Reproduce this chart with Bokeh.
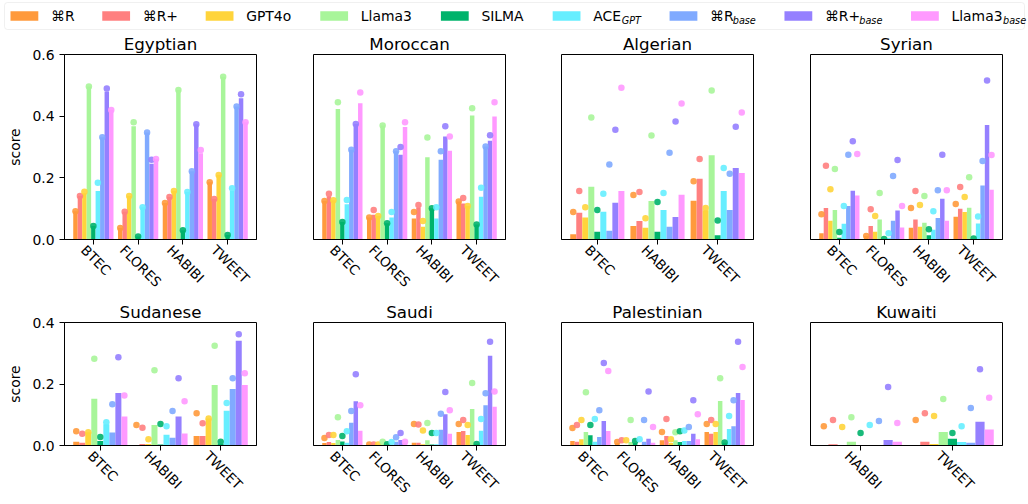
import math
from bokeh.plotting import figure
from bokeh.models import (Range1d, FixedTicker, ColumnDataSource,
                          BoxAnnotation, CustomJSTickFormatter, NumeralTickFormatter)
from bokeh.layouts import column, row
from bokeh.embed import file_html
from bokeh.resources import INLINE
from bokeh.core.properties import value

FONT = "DejaVu Sans"

# ---------------- data ----------------
model_names = ["⌘R", "⌘R+", "GPT4o", "Llama3", "SILMA", "ACE", "⌘R", "⌘R+", "Llama3"]
model_subscripts = ["", "", "", "", "", "GPT", "base", "base", "base"]
model_colors = ["#FF9A3C", "#FF8080", "#FFD43B", "#A8F59A", "#00B36B",
                "#66EEFF", "#80AAFF", "#9580FF", "#FF99FF"]

egyptian_cats = ["BTEC", "FLORES", "HABIBI", "TWEET"]
egyptian_bars = [[0.092, 0.141, 0.150, 0.496, 0.044, 0.157, 0.332, 0.480, 0.420],
                 [0.037, 0.090, 0.141, 0.367, 0.010, 0.105, 0.347, 0.246, 0.261],
                 [0.118, 0.138, 0.157, 0.485, 0.030, 0.154, 0.221, 0.374, 0.280],
                 [0.186, 0.131, 0.209, 0.528, 0.015, 0.157, 0.431, 0.458, 0.380]]
egyptian_dots = [[0.092, 0.141, 0.155, 0.496, 0.044, 0.184, 0.332, 0.490, 0.420],
                 [0.037, 0.090, 0.141, 0.380, 0.010, 0.105, 0.347, 0.259, 0.261],
                 [0.118, 0.138, 0.157, 0.485, 0.030, 0.154, 0.221, 0.374, 0.290],
                 [0.186, 0.131, 0.209, 0.528, 0.015, 0.166, 0.431, 0.471, 0.380]]

moroccan_cats = ["BTEC", "FLORES", "HABIBI", "TWEET"]
moroccan_bars = [[0.125, 0.140, 0.127, 0.423, 0.057, 0.114, 0.291, 0.375, 0.442],
                 [0.071, 0.080, 0.076, 0.370, 0.053, 0.071, 0.286, 0.275, 0.365],
                 [0.068, 0.103, 0.041, 0.267, 0.101, 0.068, 0.259, 0.334, 0.288],
                 [0.123, 0.117, 0.109, 0.402, 0.049, 0.139, 0.302, 0.320, 0.399]]
moroccan_dots = [[0.125, 0.148, 0.127, 0.445, 0.057, 0.128, 0.291, 0.375, 0.477],
                 [0.071, 0.096, 0.076, 0.370, 0.053, 0.089, 0.286, 0.300, 0.380],
                 [0.089, 0.112, 0.060, 0.331, 0.101, 0.105, 0.286, 0.367, 0.334],
                 [0.123, 0.135, 0.109, 0.426, 0.049, 0.168, 0.302, 0.338, 0.445]]

algerian_cats = ["BTEC", "HABIBI", "TWEET"]
algerian_bars = [[0.017, 0.087, 0.071, 0.171, 0.025, 0.090, 0.028, 0.119, 0.157],
                 [0.044, 0.060, 0.038, 0.125, 0.025, 0.096, 0.041, 0.073, 0.145],
                 [0.126, 0.197, 0.095, 0.273, 0.014, 0.157, 0.096, 0.232, 0.216]]
algerian_dots = [[0.089, 0.157, 0.105, 0.396, 0.096, 0.148, 0.243, 0.356, 0.492],
                 [0.144, 0.154, 0.069, 0.337, 0.122, 0.151, 0.281, 0.383, 0.441],
                 [0.189, 0.261, 0.102, 0.483, 0.062, 0.232, 0.213, 0.366, 0.412]]

syrian_cats = ["BTEC", "FLORES", "HABIBI", "TWEET"]
syrian_bars = [[0.020, 0.102, 0.061, 0.096, 0.006, 0.051, 0.109, 0.158, 0.143],
               [0.011, 0.044, 0.025, 0.065, 0.002, 0.006, 0.061, 0.094, 0.039],
               [0.038, 0.065, 0.041, 0.054, 0.014, 0.032, 0.070, 0.132, 0.061],
               [0.074, 0.100, 0.089, 0.103, 0.002, 0.052, 0.175, 0.371, 0.161]]
syrian_dots = [[0.082, 0.239, 0.163, 0.229, 0.024, 0.109, 0.275, 0.319, 0.277],
               [0.011, 0.098, 0.076, 0.151, 0.002, 0.020, 0.206, 0.258, 0.109],
               [0.102, 0.157, 0.112, 0.141, 0.033, 0.092, 0.160, 0.275, 0.160],
               [0.115, 0.170, 0.138, 0.202, 0.003, 0.075, 0.255, 0.516, 0.274]]

sudanese_cats = ["BTEC", "HABIBI", "TWEET"]
sudanese_bars = [[0.012, 0.009, 0.043, 0.152, 0.015, 0.069, 0.042, 0.171, 0.094],
                 [0.002, 0.005, 0.005, 0.067, 0.003, 0.035, 0.025, 0.094, 0.039],
                 [0.031, 0.031, 0.088, 0.197, 0.005, 0.113, 0.184, 0.341, 0.197]]
sudanese_dots = [[0.046, 0.038, 0.043, 0.282, 0.028, 0.076, 0.134, 0.287, 0.163],
                 [0.067, 0.058, 0.020, 0.245, 0.070, 0.063, 0.112, 0.219, 0.144],
                 [0.105, 0.072, 0.088, 0.324, 0.012, 0.138, 0.219, 0.362, 0.235]]

saudi_cats = ["BTEC", "FLORES", "HABIBI", "TWEET"]
saudi_bars = [[0.008, 0.011, 0.008, 0.018, 0.013, 0.009, 0.074, 0.144, 0.048],
              [0.003, 0.003, 0.003, 0.003, 0.002, 0.002, 0.012, 0.018, 0.008],
              [0.009, 0.009, 0.004, 0.017, 0.003, 0.004, 0.051, 0.102, 0.038],
              [0.044, 0.047, 0.034, 0.119, 0.004, 0.048, 0.131, 0.292, 0.126]]
saudi_dots = [[0.024, 0.034, 0.034, 0.092, 0.031, 0.046, 0.112, 0.232, 0.131],
              [0.003, 0.003, 0.003, 0.012, 0.004, 0.011, 0.027, 0.041, 0.012],
              [0.070, 0.068, 0.049, 0.073, 0.041, 0.041, 0.103, 0.174, 0.115],
              [0.070, 0.083, 0.067, 0.203, 0.005, 0.086, 0.170, 0.337, 0.176]]

palestinian_cats = ["BTEC", "FLORES", "HABIBI", "TWEET"]
palestinian_bars = [[0.015, 0.012, 0.020, 0.044, 0.033, 0.012, 0.028, 0.080, 0.047],
                    [0.008, 0.002, 0.001, 0.011, 0.008, 0.001, 0.012, 0.022, 0.009],
                    [0.017, 0.031, 0.008, 0.017, 0.011, 0.015, 0.015, 0.038, 0.020],
                    [0.044, 0.038, 0.044, 0.145, 0.009, 0.054, 0.063, 0.171, 0.148]]
palestinian_dots = [[0.057, 0.067, 0.083, 0.173, 0.067, 0.086, 0.115, 0.268, 0.242],
                    [0.011, 0.017, 0.017, 0.083, 0.015, 0.020, 0.083, 0.176, 0.060],
                    [0.044, 0.086, 0.020, 0.043, 0.046, 0.049, 0.060, 0.147, 0.102],
                    [0.070, 0.083, 0.070, 0.219, 0.010, 0.096, 0.147, 0.337, 0.255]]

kuwaiti_cats = ["HABIBI", "TWEET"]
kuwaiti_bars = [[0.001, 0.004, 0.000, 0.012, 0.000, 0.002, 0.002, 0.018, 0.012],
                [0.002, 0.012, 0.005, 0.044, 0.022, 0.011, 0.009, 0.077, 0.052]]
kuwaiti_dots = [[0.063, 0.083, 0.060, 0.092, 0.041, 0.067, 0.080, 0.190, 0.073],
                [0.083, 0.105, 0.096, 0.151, 0.041, 0.063, 0.122, 0.248, 0.155]]

row1_yticks = [0.0, 0.2, 0.4, 0.6]
row2_yticks = [0.0, 0.2, 0.4]

# ---------------- helpers ----------------
CHAR_W = {'B': .686, 'T': .611, 'E': .632, 'C': .698, 'F': .575, 'L': .557, 'O': .787,
          'R': .695, 'S': .635, 'H': .752, 'A': .684, 'I': .295, 'W': .989, 'G': .775,
          'P': .603, 'M': .863, '4': .636, '3': .636, 'o': .612, 'l': .278, 'a': .613,
          'm': .974, 'b': .635, 's': .521, 'e': .615, '+': .838, '⌘': .90}


def text_width(s, size):
    return sum(CHAR_W.get(c, 0.65) for c in s) * size


FS = 13.9
TICK_FS = 13.5
TITLE_FS = 16.7
BAR_W = 0.1
FRAME_W = 192


def make_panel(title, cats, bars, dots, ymax, yticks, first, width, height, bl, br, bt, bb):
    n = len(cats)
    margin = 0.05 * (n - 0.1)
    x0, x1 = -0.45 - margin, n - 0.55 + margin
    p = figure(width=width, height=height, output_backend="svg", toolbar_location=None,
               x_range=Range1d(x0, x1), y_range=Range1d(0, ymax),
               min_border_left=bl, min_border_right=br, min_border_top=bt, min_border_bottom=bb)
    p.title.text = title
    p.title.align = "center"
    p.title.text_font = FONT
    p.title.text_font_size = f"{TITLE_FS}px"
    p.title.text_font_style = "normal"
    p.title.text_color = "black"
    p.title.standoff = 1
    p.outline_line_color = "black"
    p.outline_line_width = 1
    p.outline_line_alpha = 1
    p.xgrid.visible = False
    p.ygrid.visible = False
    p.background_fill_color = "white"
    p.border_fill_color = "white"

    xs, tops, dys, cols = [], [], [], []
    for ci in range(n):
        for mi in range(len(model_names)):
            xs.append(ci + (mi - 4) * BAR_W)
            tops.append(bars[ci][mi])
            dys.append(dots[ci][mi])
            cols.append(model_colors[mi])
    src = ColumnDataSource(dict(x=xs, top=tops, dot=dys, color=cols))
    p.vbar(x="x", top="top", bottom=0, width=BAR_W, fill_color="color", line_color=None, source=src)
    p.scatter(x="x", y="dot", size=6.5, fill_color="color", line_color=None, fill_alpha=0.9, source=src)

    # x axis: tick marks (minor ticks) at the categories, rotated labels
    # (major ticks, invisible) shifted so that each label is centred under its tick
    ppu = FRAME_W / (x1 - x0)
    h = 8.0
    shifted = [ci - 0.3536 * (text_width(c, TICK_FS) - h) / ppu for ci, c in enumerate(cats)]
    ax = p.below[0]
    ax.ticker = FixedTicker(ticks=shifted, minor_ticks=list(range(n)))
    ax.formatter = CustomJSTickFormatter(args=dict(labels=cats), code="return labels[index]")
    ax.major_label_orientation = -math.pi / 4
    ax.major_label_text_font = FONT
    ax.major_label_text_font_size = f"{TICK_FS}px"
    ax.major_label_text_color = "black"
    ax.major_label_standoff = 3
    ax.major_tick_line_color = None
    ax.major_tick_in = 0
    ax.major_tick_out = 5
    ax.minor_tick_line_color = "black"
    ax.minor_tick_line_width = 1
    ax.minor_tick_in = 0
    ax.minor_tick_out = 5
    ax.axis_line_color = "black"

    if first:
        p.yaxis.ticker = FixedTicker(ticks=yticks)
        p.yaxis.formatter = NumeralTickFormatter(format="0.0")
        p.yaxis.major_label_text_font = FONT
        p.yaxis.major_label_text_font_size = f"{FS}px"
        p.yaxis.major_label_text_color = "black"
        p.yaxis.major_tick_in = 0
        p.yaxis.major_tick_out = 5
        p.yaxis.major_label_standoff = 5
        p.yaxis.minor_tick_line_color = None
        p.yaxis.axis_line_color = "black"
        p.yaxis.major_tick_line_color = "black"
        p.yaxis.axis_label = "score"
        p.yaxis.axis_label_text_font = FONT
        p.yaxis.axis_label_text_font_size = f"{FS}px"
        p.yaxis.axis_label_text_font_style = "normal"
        p.yaxis.axis_label_text_color = "black"
        p.yaxis.axis_label_standoff = 6
    else:
        p.yaxis.visible = False
    return p


widths = [264, 249, 248, 267]
lefts = [64, 49, 48, 49]
rights = [8, 8, 8, 26]

row1_data = [("Egyptian", egyptian_cats, egyptian_bars, egyptian_dots),
             ("Moroccan", moroccan_cats, moroccan_bars, moroccan_dots),
             ("Algerian", algerian_cats, algerian_bars, algerian_dots),
             ("Syrian", syrian_cats, syrian_bars, syrian_dots)]
row2_data = [("Sudanese", sudanese_cats, sudanese_bars, sudanese_dots),
             ("Saudi", saudi_cats, saudi_bars, saudi_dots),
             ("Palestinian", palestinian_cats, palestinian_bars, palestinian_dots),
             ("Kuwaiti", kuwaiti_cats, kuwaiti_bars, kuwaiti_dots)]

row1_figs = [make_panel(t, c, b, d, 0.6, row1_yticks, i == 0, widths[i], 268,
                        lefts[i], rights[i], 24, 58)
             for i, (t, c, b, d) in enumerate(row1_data)]
row2_figs = [make_panel(t, c, b, d, 0.4, row2_yticks, i == 0, widths[i], 206,
                        lefts[i], rights[i], 24, 58)
             for i, (t, c, b, d) in enumerate(row2_data)]

# ---------------- legend ----------------
LEG_W, LEG_H = 1028, 30
leg = figure(width=LEG_W, height=LEG_H, output_backend="svg", toolbar_location=None,
             x_range=Range1d(0, LEG_W), y_range=Range1d(LEG_H, 0),
             x_axis_type=None, y_axis_type=None, min_border=0)
leg.outline_line_color = None
leg.xgrid.visible = False
leg.ygrid.visible = False
leg.add_layout(BoxAnnotation(left=4, right=1024, top=2, bottom=29, level="underlay",
                             fill_color="white", fill_alpha=1, line_color="#cccccc",
                             line_width=1, border_radius=3))
PATCH_W, PATCH_H, PAD, COLSP = 27.8, 9.7, 12.7, 29.1
SUB_FS = 9.7
px, tx, sx = [], [], []
cur = 10
for name, sub in zip(model_names, model_subscripts):
    px.append(cur + PATCH_W / 2)
    tx.append(cur + PATCH_W + PAD)
    tw = text_width(name, FS)
    sx.append(cur + PATCH_W + PAD + tw + 0.5)
    sw = text_width(sub, SUB_FS)
    cur += PATCH_W + PAD + tw + sw + COLSP
cy = 15.5
leg.rect(x=px, y=[cy] * len(px), width=PATCH_W, height=PATCH_H, fill_color=model_colors,
         line_color=None)
leg.text(x=tx, y=[cy] * len(tx), text=model_names, text_baseline="middle",
         text_font=value(FONT), text_font_size=f"{FS}px", text_color="black")
sub_idx = [i for i, s in enumerate(model_subscripts) if s]
leg.text(x=[sx[i] for i in sub_idx], y=[cy + 4] * len(sub_idx),
         text=[model_subscripts[i] for i in sub_idx], text_baseline="middle",
         text_font=value(FONT), text_font_size=f"{SUB_FS}px", text_font_style="italic",
         text_color="black")

layout = column(leg, row(*row1_figs), row(*row2_figs))
open("out.html", "w").write(file_html(layout, INLINE))
